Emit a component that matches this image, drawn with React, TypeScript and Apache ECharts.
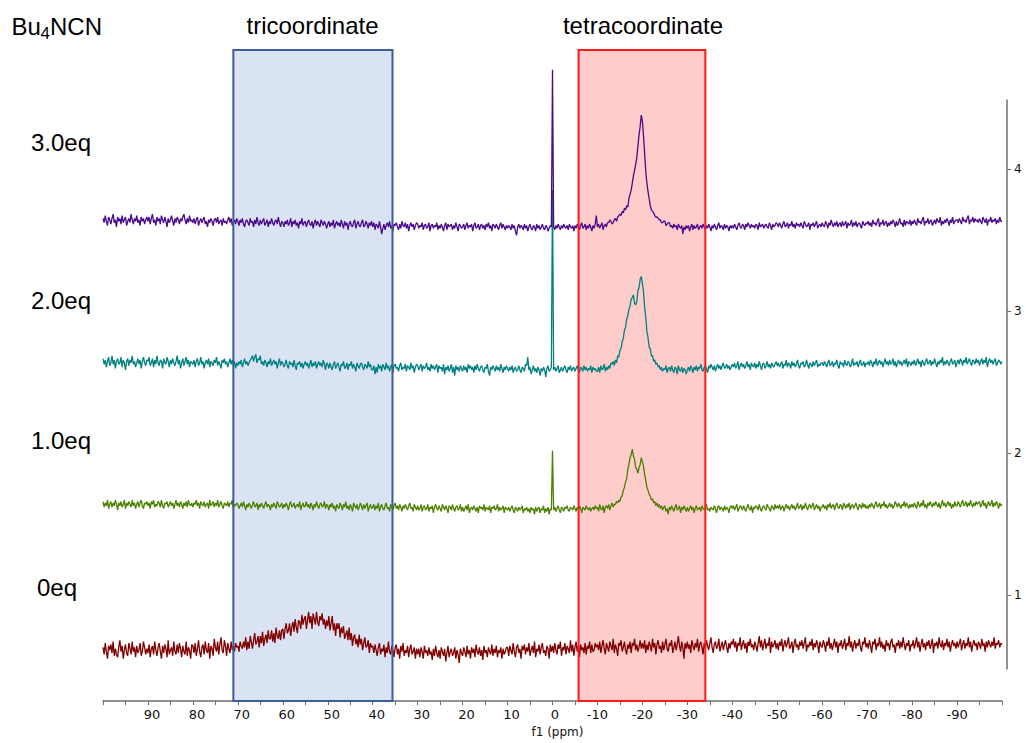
import { useEffect, useRef } from 'react';
import * as echarts from 'echarts';

// Chemical-shift sampling of every trace: 100 ppm down to -100 ppm in 0.25 ppm steps
const PPM_START = 100;
const PPM_STEP = 0.25;

// Stacked 11B spectra, bottom to top
const SAMPLE_LABELS = ['0eq', '1.0eq', '2.0eq', '3.0eq'];
const BASELINE_OFFSETS = [0.6, 1.6, 2.6, 3.6];
const LINE_COLORS = ['#800000', '#4c8000', '#008080', '#4a0a8a'];
// trace colour where it runs under the shaded windows
const BLUE_ZONE_COLORS = ['#6d0000', '#417200', '#00727a', '#3f0984'];
const RED_ZONE_COLORS = ['#800000', '#4c6600', '#006666', '#4a086e'];

// shaded chemical-shift windows (ppm)
const TRICOORD_RANGE = [35.6, 71];
const TETRACOORD_RANGE = [-34, -5.8];
const ZONE_TITLES = ['tricoordinate', 'tetracoordinate'];

const X_MIN = -100;
const X_MAX = 100;
const Y_MIN = 0.24;
const Y_MAX = 4.84;
const RIGHT_TICKS = [1, 2, 3, 4];

// intensities in hundredths of a stack unit, relative to each baseline (one row = 10 ppm)
const INTENSITY_0EQ = [
  2, -3, 5, -1, -6, 3, 0, 4, -2, 6, -4, 1, -3, -5, 2, 7, -1, 3, -6, 0, 4, -2, -4, 5, 1, -3, 6, -1, 2, -5, 3, -2, 0, 5, -4, -1, 6, 2, -3, 1,
  -2, 4, -5, 1, 3, -3, 6, 0, -4, 2, 5, -1, -6, 3, -2, 4, 1, -5, 7, -3, 0, 2, -4, 6, -1, -3, 4, -2, 5, 1, -5, 3, -1, -3, 6, -4, 2, 0, -6, 4,
  3, -2, 5, -4, 1, 7, -1, -5, 2, 4, -3, 6, 0, -2, 5, -6, 3, 1, -4, 8, 2, -1, 6, -3, 4, 9, 0, -2, 7, 3, -4, 5, 1, -2, 6, 0, 3, -1, 5, 2,
  3, -1, 6, 3, 1, 6, 2, 9, 0, 6, 1, 10, 6, 1, 7, 12, 4, 6, 10, 2, 10, 5, 13, 3, 8, 11, 5, 14, 8, 8, 14, 6, 12, 5, 16, 10, 8, 14, 7, 14,
  15, 8, 15, 19, 12, 14, 19, 10, 16, 20, 13, 22, 16, 12, 21, 20, 15, 25, 18, 22, 24, 15, 21, 27, 19, 24, 15, 26, 22, 18, 27, 20, 17, 24, 21, 26, 18, 22, 15, 21,
  17, 24, 14, 19, 24, 14, 19, 10, 19, 15, 19, 9, 16, 12, 17, 8, 11, 14, 7, 16, 7, 12, 3, 9, 11, 4, 8, 2, 11, 4, 8, 0, 5, 9, 2, 3, 7, -2, 5, 2,
  3, -2, 4, 0, -4, 2, 5, -3, 1, -1, 4, -5, 2, -2, 6, -1, -3, 3, 0, -5, 2, 4, -3, 1, -6, 3, -1, 5, -4, 0, -2, 3, -5, 1, 4, -3, -1, 2, -6, 1,
  -3, 1, -5, 2, -1, -6, 3, -2, 0, -4, 2, -3, -1, -7, 1, -4, 3, -2, -5, 0, -6, 2, -1, -4, 1, -8, -2, 3, -5, -1, 1, -4, -2, 2, -6, 0, -3, -9, 1, -2,
  -4, 2, -1, -5, 3, -3, 0, -6, 2, -2, 1, -5, 4, -1, -3, 2, -4, 0, -7, 3, -2, 0, -5, 2, -1, -3, 4, -4, 1, -2, 3, -5, 0, -2, 2, -6, 1, -3, -1, 2,
  2, -4, 3, 0, -3, 5, -1, -5, 2, 4, -2, 1, -6, 3, 0, 4, -3, 2, -1, 5, -4, 0, 3, -2, 6, -5, 1, -1, 4, -3, 2, 5, -2, 0, -4, 3, 1, -6, 4, -1,
  3, -2, 5, 0, -3, 4, 1, 6, -4, 2, 0, 5, -3, 3, 1, -2, 7, -1, 4, -4, 2, 6, -1, 3, -5, 4, 0, 2, -2, 5, -3, 3, 1, 6, -2, 4, -1, 0, 5, 2,
  4, 0, 6, -2, 3, 7, 1, -3, 5, 2, -1, 6, 3, 0, 8, -2, 4, 1, -4, 5, 3, 7, -1, 2, 6, 0, -3, 4, 1, 6, -2, 5, 3, 8, 0, 4, -1, 2, 7, 1,
  5, 1, 7, -2, 4, 0, 6, 3, -1, 8, 2, 5, -3, 4, 7, 1, 3, -2, 6, 0, 4, 8, 1, -1, 5, 3, 7, -2, 2, 6, 0, 4, 10, 3, -1, 6, 2, -6, 5, 1,
  6, 1, 4, -2, 7, 3, 0, 5, 2, 8, -1, 4, 6, 2, -3, 5, 1, 7, 3, 0, 5, 9, 2, -2, 4, 6, 1, 3, 8, -1, 3, 6, 0, 4, 7, 2, -2, 5, 1, 6,
  4, 8, 2, 6, -1, 5, 3, 9, 0, 4, 7, 1, 5, -2, 6, 3, 8, 2, 4, 0, 6, 3, -1, 5, 10, 2, 7, 0, 4, 8, 1, 5, 3, 9, -2, 6, 2, 4, 7, 1,
  5, 0, 6, 3, 8, -1, 4, 7, 2, 5, 9, 1, 3, 6, -2, 5, 8, 2, 4, 0, 6, 3, 7, 1, 5, 9, -1, 4, 2, 6, 3, 8, 0, 5, 2, 7, 4, -2, 6, 3,
  2, 7, 4, -1, 6, 3, 9, 1, 5, 0, 4, 8, 2, 6, -2, 5, 3, 7, 1, 4, 8, 0, 5, 3, 10, 2, 6, -1, 4, 7, 1, 5, 3, 8, 2, -1, 6, 4, 9, 2,
  5, 1, 7, 3, -2, 6, 4, 8, 0, 5, 3, 9, 2, 6, 1, 4, -1, 7, 3, 5, 0, 6, 8, 2, 4, -2, 5, 3, 7, 1, 6, 2, 9, 4, 0, 5, 3, 7, -1, 4,
  3, 7, 1, 5, 9, 2, 6, -1, 4, 8, 2, 5, 0, 6, 3, 7, 1, 4, 8, -2, 5, 3, 6, 1, 9, 4, 2, 7, 0, 5, 3, 8, 2, 6, -1, 4, 7, 3, 5, 1,
  6, 2, 5, 8, 0, 4, 7, 1, 5, 3, 9, 2, 6, -1, 4, 7, 3, 5, 0, 6, 4, 1, 8, 3, 5, -1, 6, 2, 7, 4, 2, 6, 3, 9, 1, 5, 4, 7, 2, 5,
  4,
];

const INTENSITY_1EQ = [
  5, 1, 4, 2, 6, 0, 3, 5, 1, 4, 2, 6, 3, -1, 4, 2, 5, 1, 3, 6, 0, 4, 2, 5, 3, 1, 6, 2, 4, 0, 3, 5, 1, 4, 6, 2, 0, 4, 3, 5,
  2, 4, 0, 5, 3, 6, 1, 3, 2, 5, 4, 1, 6, 2, 0, 4, 3, 5, 1, 3, 5, 2, 4, 0, 3, 6, 2, 4, 1, 5, 3, 0, 4, 2, 5, 1, 6, 3, 2, 4,
  1, 4, 3, 6, 2, 4, 0, 5, 3, 2, 5, 1, 3, 4, 0, 6, 2, 3, 5, 1, 4, 2, 6, 1, 3, 5, 2, 0, 4, 3, 2, 5, 1, 4, 3, 6, 0, 3, 2, 4,
  3, 0, 2, 4, 1, 5, 2, -1, 3, 1, 4, 2, 0, 3, 5, 1, 2, 4, -1, 3, 1, 4, 2, 0, 3, 5, 1, 3, 2, -1, 3, 1, 4, 2, 0, 5, 3, 1, 2, 4,
  0, 3, 1, 4, 2, -1, 3, 5, 1, 2, 4, 0, 2, 3, 1, 5, -1, 2, 4, 1, 2, 5, 1, 3, 0, 4, 2, -1, 3, 1, 5, 2, 0, 3, 4, 1, 2, 5, 0, 3,
  2, -1, 3, 1, 4, 0, 2, -2, 3, 1, 0, 4, 2, -1, 3, 1, 5, 0, 2, -1, 3, 1, -2, 4, 2, 0, 3, -1, 1, 4, 2, -1, 3, 0, 2, 4, -2, 1, 3, 0,
  1, 3, -1, 2, 0, 4, -2, 1, 3, 0, -1, 2, 4, 0, 1, -2, 3, 1, -1, 2, 4, 0, 2, -1, 3, 1, -2, 2, 0, 3, 1, -1, 2, 4, 0, 1, -2, 3, 1, -1,
  2, -1, 0, 3, -2, 1, 2, -1, 0, 3, -2, 1, 0, 2, -3, 1, 3, 0, -1, 2, 0, -2, 3, 1, -1, 2, 0, -3, 2, 1, -1, 3, 0, -2, 1, 2, -1, 0, 3, -2,
  1, -2, 0, 2, -1, 3, -3, 0, 1, -1, 2, 0, -2, 1, -3, 2, 0, 1, -1, 3, -2, 1, 0, -1, 2, -3, 1, 0, 2, -1, 0, 3, -2, 1, -1, 0, 2, -3, 1, 0,
  -1, 1, -2, 0, 2, -1, -3, 1, 0, -2, 1, -1, 0, 2, -3, 0, -1, 1, -2, 0, -3, 1, -1, 0, -4, 1, -2, 0, 1, -3, 0, -1, 2, -3, 0, -2, 1, -4, 0, -1,
  41, -1, 1, -2, 0, 2, -1, -3, 1, 0, -2, 1, 0, 2, -1, -2, 1, 0, -1, 2, 0, -2, 1, -1, 2, 0, -3, 1, 0, -1, 2, 0, -1, 1, -2, 0, 1, -1, 2, 0,
  1, -2, 3, 0, -1, 2, -3, 1, 2, 0, 3, -1, 2, 4, 1, 3, 3, 5, 4, 6, 5, 8, 9, 13, 15, 19, 21, 28, 31, 36, 38, 42, 37, 35, 29, 28, 25, 29, 31, 36,
  33, 30, 24, 20, 15, 13, 10, 9, 6, 7, 4, 5, 2, 4, 1, 3, 0, 2, -1, 1, 2, -2, 0, -4, 1, -1, 2, 0, -2, 1, 3, -1, 0, 2, -3, 1, -1, 2, 0, -2,
  1, -2, 0, 2, -1, 1, -3, 0, 2, -1, 0, 1, -2, 2, 0, -1, 1, 3, -1, 0, -2, 1, 0, -1, 2, 0, -3, 1, 2, -1, 1, 0, -2, 2, -1, 1, 0, -3, 1, 2,
  0, 2, -1, 1, 3, -2, 0, 2, 1, -1, 2, 0, -2, 1, 3, 0, -1, 2, -3, 1, 0, 2, 1, -1, 3, 0, -2, 1, 2, 0, -1, 3, 1, 0, -2, 2, 1, -1, 3, 0,
  2, 0, 3, -1, 1, 2, -2, 1, 3, 0, 2, -1, 1, 3, 0, 2, -1, 1, 4, 0, 1, 3, -1, 2, 0, 4, 1, -1, 2, 3, 0, 2, 4, -1, 1, 3, 0, 2, -2, 1,
  1, 3, 0, 2, -1, 3, 1, 4, 0, 2, 3, -1, 2, 4, 1, 0, 3, 2, -1, 4, 2, 0, 3, 1, 4, -1, 2, 3, 0, 2, 4, 1, -1, 3, 2, 0, 4, 1, 3, 0,
  2, 0, 3, 1, 4, 2, 0, 3, 5, 1, 2, 4, 0, 3, 2, 5, 1, 3, 0, 2, 4, 1, 3, 0, 2, 5, 3, 1, 4, 2, 0, 3, 2, 5, 1, 4, 2, 0, 3, 1,
  3, 1, 4, 2, 0, 5, 3, 1, 4, 2, 6, 1, 3, 0, 4, 2, 5, 3, 1, 4, 2, 5, 3, 1, 4, 0, 3, 6, 2, 4, 1, 3, 5, 2, 4, 0, 3, 1, 5, 2,
  2, 5, 3, 1, 4, 6, 2, 3, 5, 1, 4, 2, 6, 3, 1, 4, 2, 5, 3, 4, 5, 1, 3, 6, 2, 4, 0, 3, 5, 2, 3, 6, 1, 4, 2, 5, 3, 0, 4, 2,
  3,
];

const INTENSITY_2EQ = [
  6, 2, 5, 0, 4, 7, 1, 3, 8, 2, 5, -1, 4, 6, 2, 3, 7, 0, 5, 3, -2, 4, 6, 1, 5, 3, 8, 2, 4, 0, 3, 6, 2, 5, -1, 4, 7, 3, 1, 5,
  4, 7, 1, 3, 6, 0, 5, 2, 8, 3, 1, 5, 4, -1, 6, 3, 2, 7, 4, 0, 5, 2, 6, 3, 1, 4, 8, 2, 5, -1, 3, 6, 1, 4, 7, 2, 5, 0, 4, 3,
  2, 5, 0, 4, 6, 1, 3, 7, 2, 4, -1, 3, 5, 2, 6, 0, 4, 3, 1, 5, 3, 7, 1, 4, 2, -1, 5, 3, 6, 2, 4, 0, 3, 6, 2, 5, 1, 4, -1, 3,
  1, 4, 2, 5, 0, 3, 6, 2, 4, 1, 3, 5, 6, 8, 4, 7, 9, 3, 6, 5, 8, 2, 4, 1, 5, 3, 0, 4, 2, 6, 1, 3, 5, 2, 4, -1, 3, 6, 1, 4,
  3, 0, 2, 5, 1, -1, 4, 2, 3, 0, 5, 1, -2, 3, 2, 4, 0, 3, -1, 2, 4, 1, 3, -1, 2, 5, 0, 3, 1, 4, -1, 2, 4, 1, 3, 0, 5, 2, -2, 3,
  2, -1, 3, 0, -2, 2, 4, -1, 1, 3, 0, -3, 2, 1, 4, -1, 0, 3, -2, 2, 1, 4, -1, 2, 0, -3, 3, 1, -1, 2, 3, 0, -2, 2, 1, -1, 4, 0, 2, -2,
  -2, 1, -5, 0, -4, 2, -1, 1, -3, 2, 0, -2, 3, -1, 1, -3, 0, 2, -4, 1, 2, -1, 0, -3, 1, 3, -2, 0, -1, 2, -3, 1, 0, -2, 3, -1, 1, -4, 0, 2,
  1, -2, 0, 2, -3, 1, -1, 0, 3, -2, 0, -3, 2, -1, 1, -2, 0, 2, -4, 1, -1, 0, -3, 2, -5, 0, -2, 1, -3, -1, 2, -4, 0, -6, 1, -2, 0, -3, 1, -1,
  -3, 1, -2, 0, -4, 2, -1, 1, -2, 0, -4, 1, -2, 2, -1, -3, 0, 1, -2, -4, 0, -1, 2, -3, -6, 0, -2, 1, -1, -3, 1, -2, 0, -3, 2, -1, -4, 0, -2, 1,
  -1, -3, 0, -2, 1, -4, -1, 0, -3, -2, 1, -2, -4, 0, -1, -3, 2, 1, 7, -2, 0, -5, -2, 1, -3, -1, -4, 0, -2, -6, -1, -3, 0, -2, -7, -1, 1, -3, -2, 0,
  125, -2, 0, -3, -1, 1, -4, -2, 0, -3, -1, 1, -2, -4, 0, -2, 1, -3, -1, 0, -3, -1, 1, -2, -4, 0, -1, -3, 1, -2, 0, -3, -1, -2, 1, -4, 0, -2, -1, -3,
  -3, 0, -4, 1, -2, -1, 2, -3, 0, -2, 1, -1, 3, 2, 4, 1, 5, 3, 8, 7, 12, 13, 18, 20, 26, 28, 34, 36, 41, 43, 48, 49, 51, 45, 44, 46, 54, 56, 62, 64,
  59, 53, 42, 35, 25, 21, 14, 13, 8, 8, 4, 5, 2, 3, 0, 1, -2, 0, -3, -1, -2, 1, -4, -1, 0, -3, 1, -2, -4, 0, -1, -5, 1, -2, -3, 0, -4, -1, -2, -5,
  -2, 0, -3, 1, -1, -4, 0, -2, 1, -3, 0, -1, 2, -2, -3, 0, 1, -1, -4, 1, -1, 2, 0, -2, 1, -3, 0, 2, -1, 1, -2, 1, 3, -1, 0, 2, -1, 1, -2, 0,
  2, 0, 3, -1, 1, 4, -2, 1, 3, 0, 2, -1, 1, 4, 0, 2, -2, 3, 1, 0, 3, -1, 2, 0, 4, 1, -2, 2, 3, -1, 1, 4, 0, 2, -1, 3, 1, 0, 2, 4,
  1, 3, 0, 2, 4, -1, 2, 1, 5, 0, 3, 2, -1, 4, 1, 3, 0, 2, 5, 1, -1, 3, 2, 4, 0, 1, 5, 2, -1, 3, 2, 0, 4, 1, 3, 5, 0, 2, 1, 3,
  3, 1, 4, 2, 0, 3, 5, 1, 2, 4, 0, 3, 2, 5, 1, -1, 4, 2, 3, 0, 5, 2, 1, 4, 3, 0, 2, 6, 1, 3, 2, 4, 0, 3, 5, 1, 2, 4, 0, 3,
  2, 4, 1, 5, 3, 0, 4, 2, 6, 1, 3, 5, 2, 4, 0, 3, 6, 2, 4, 1, 5, 2, 3, 6, 1, 4, 0, 3, 5, 2, 4, 1, 3, 5, 2, 6, 0, 4, 3, 1,
  4, 2, 5, 1, 3, 6, 2, 4, 0, 5, 3, 1, 4, 6, 2, 3, 5, 1, 4, 2, 6, 3, 0, 4, 2, 5, 3, 7, 1, 4, 2, 5, 3, 1, 4, 6, 2, 3, 5, 0,
  3, 5, 2, 6, 4, 1, 5, 3, 7, 2, 4, 6, 3, 1, 5, 4, 2, 6, 3, 5, 1, 4, 6, 2, 5, 3, 7, 0, 4, 6, 3, 5, 2, 4, 6, 1, 3, 5, 4, 2,
  4,
];

const INTENSITY_3EQ = [
  5, 2, 7, 3, 0, 6, 4, 1, 5, 8, 2, 4, -1, 6, 3, 5, 1, 7, 2, 4, 6, 0, 3, 5, 2, 8, 4, 1, 5, 3, 7, 2, 4, 0, 6, 3, 5, 1, 4, 6,
  3, 6, 1, 5, 8, 2, 4, 0, 6, 3, 5, 1, 7, 4, 2, 6, 3, -1, 5, 2, 4, 7, 3, 0, 5, 2, 6, 4, 1, 5, 3, 6, 8, 4, 1, 5, 2, 7, 3, 4,
  2, 5, 1, 4, 6, 0, 3, 5, 2, 4, 6, 1, 3, -1, 4, 2, 5, 3, 0, 4, 5, 2, 6, 1, 3, 4, 0, 5, 2, 3, 1, 4, 6, 2, 5, 0, 3, 4, 1, 5,
  3, 0, 4, 2, 5, 1, -1, 3, 4, 2, 0, 5, 2, 3, -1, 4, 1, 6, 2, 0, 4, 1, 3, 5, 0, 2, 4, -1, 3, 1, 5, 2, 0, 3, 4, 1, 6, 2, -1, 3,
  2, -1, 3, 1, 4, 0, 2, 5, -1, 3, 1, 4, 0, 2, -2, 3, 1, 5, 0, 2, 3, -1, 2, 4, 1, 0, 3, -2, 2, 4, 0, 3, 1, -1, 4, 2, 0, 3, 1, -2,
  1, 3, -1, 2, 0, 4, -2, 1, 3, 0, 2, -1, 4, 1, -2, 3, 0, 2, -3, 1, 3, 0, -1, 2, 4, -2, 1, 3, 0, -1, 2, 4, -1, 0, 3, 1, -2, 2, 0, 3,
  -1, 2, -3, 1, 0, -2, 3, -1, -6, -2, 1, -3, 0, 2, -1, 3, -2, 0, -4, 1, 0, 2, -1, -3, 1, -2, 3, 0, -1, 2, -2, 1, -4, 0, 2, -1, 1, -3, 0, 2,
  1, -2, 0, -1, 2, -3, 0, 1, -2, -1, 2, -4, 0, 1, -2, 0, -1, 2, -3, 0, -2, 1, -1, -4, 0, 2, -3, 1, -1, 0, 1, -3, 0, -2, 2, -1, -4, 1, 0, -2,
  -1, 1, -3, 0, 2, -2, 0, -1, 1, -4, 0, 2, -2, -1, 1, -3, 0, 1, -2, 0, -3, 1, -1, 2, -2, 0, -4, 1, 0, -2, 1, -1, -3, 0, 2, -2, 1, -1, -3, 0,
  -2, 0, -1, -3, 1, -2, 0, -4, -7, -1, 1, -2, 0, -1, -3, 1, -2, 0, -4, -1, 1, -2, -3, 0, -1, -4, 1, -2, 0, -3, -1, 1, -2, -3, 0, -1, -4, -2, 0, -1,
  110, -1, -3, 0, -2, 1, -1, -3, 0, -2, 1, -1, -2, 0, -3, 1, -1, -2, 0, -4, 0, -2, 1, -1, -3, 0, 2, -2, -1, 1, -3, 0, -2, 1, -1, -4, 0, -2, 1, 7,
  -1, 1, -2, 0, 2, -3, 0, 1, -1, 2, 2, 4, 3, 1, 2, 4, 5, 3, 6, 7, 8, 7, 10, 9, 12, 11, 14, 13, 19, 22, 25, 30, 35, 39, 43, 48, 56, 64, 70, 78,
  74, 63, 51, 38, 30, 24, 19, 14, 11, 10, 9, 7, 6, 6, 5, 4, 4, 2, 2, 3, 3, 0, 1, 2, 2, -1, 0, -2, 1, -1, 0, -3, 1, -1, -2, 0, -6, -1, -3, 0,
  -2, 0, -4, -1, 1, -3, 0, -2, -1, 1, -3, -1, 0, -2, 1, -1, -3, 0, -2, 1, -1, -4, 0, -2, 1, -1, -3, 0, 2, -2, 0, -1, -3, 1, -2, 0, -1, -4, 0, -2,
  0, -2, 1, -1, -3, 0, 2, -1, -2, 1, 0, -3, 1, -1, 2, 0, -2, 1, -1, 0, -2, 1, 0, -3, 2, -1, 0, 1, -2, 0, 1, -1, -2, 2, 0, -3, 1, -1, 0, 2,
  1, -1, 2, 0, -2, 1, 3, -1, 0, 2, -2, 1, 0, 3, -1, 1, -2, 2, 0, 1, -1, 2, 0, -2, 3, 1, -1, 0, 2, -3, 1, 0, 2, -1, 1, 3, -2, 0, 1, -1,
  2, 0, -1, 3, 1, -2, 2, 0, 4, 1, -1, 2, 0, 3, -1, 1, 2, -1, 3, 0, 1, 3, -2, 2, 0, 1, 4, -1, 2, 0, 3, -1, 1, 2, 0, -2, 3, 1, 0, 2,
  1, 3, 0, 2, -1, 4, 1, 2, 0, 3, 5, -1, 2, 1, 4, 0, 2, 3, -1, 2, 0, 3, 1, 4, 2, -1, 3, 0, 2, 5, 1, 2, -1, 4, 0, 3, 2, 1, 4, 0,
  3, 1, 4, 2, 0, 5, 2, 3, 1, 4, 6, 0, 3, 2, 5, 1, 3, 4, 0, 2, 4, 1, 5, 3, 2, 6, 0, 3, 1, 4, 2, 5, 3, 0, 4, 2, 6, 1, 3, 4,
  4, 2, 5, 3, 1, 6, 3, 4, 2, 5, 7, 1, 4, 3, 6, 2, 5, 3, 4, 2, 5, 3, 1, 6, 4, 2, 5, 0, 4, 3, 6, 2, 4, 3, 5, 1, 4, 2, 6, 3,
  3,
];

const INTENSITIES = [INTENSITY_0EQ, INTENSITY_1EQ, INTENSITY_2EQ, INTENSITY_3EQ];

const TEXT_FONT = "'Liberation Sans', Arial, sans-serif";
const AXIS_FONT = "'DejaVu Sans', sans-serif";
const AXIS_GREY = '#6e6e6e';

const toSeriesData = (values: number[], offset: number) =>
  values.map((v, i) => [PPM_START - i * PPM_STEP, offset + v / 100]);

const textEl = (
  text: string,
  x: number,
  y: number,
  size: number,
  align: 'left' | 'center' = 'left',
) => ({
  type: 'text',
  x,
  y,
  silent: true,
  style: {
    text,
    fill: '#000',
    fontSize: size,
    fontFamily: TEXT_FONT,
    align,
    textAlign: align,
    verticalAlign: 'middle',
    textVerticalAlign: 'middle',
  },
});

const tickLabel = (v: number) => {
  if (v % 10 !== 0 || Math.abs(v) >= 100) return '';
  if (v > 0) return `{pos|${v}}`;
  if (v === 0) return `{zero|${v}}`;
  return `{neg|${v}}`;
};

const labelRich = (pad: number) => ({
  fontSize: 13,
  fontFamily: AXIS_FONT,
  color: '#111',
  padding: [0, 0, 0, pad],
});

export default function App() {
  const ref = useRef<HTMLDivElement>(null);

  useEffect(() => {
    if (!ref.current) return;
    const chart = echarts.init(ref.current, undefined, { renderer: 'svg' });

    const spectra = INTENSITIES.map((vals, k) => ({
      type: 'line',
      name: SAMPLE_LABELS[k],
      xAxisIndex: 0,
      yAxisIndex: 0,
      data: toSeriesData(vals, BASELINE_OFFSETS[k]),
      showSymbol: false,
      symbol: 'none',
      silent: true,
      z: 2,
      lineStyle: { width: 1.3, color: LINE_COLORS[k] },
      color: LINE_COLORS[k],
    }));

    const zoneFill = {
      type: 'line',
      name: 'zone-fill',
      xAxisIndex: 0,
      yAxisIndex: 0,
      data: [],
      silent: true,
      clip: false,
      markArea: {
        silent: true,
        z: 1,
        data: [
          [
            { xAxis: TRICOORD_RANGE[1], yAxis: Y_MIN, itemStyle: { color: '#dae3f3' } },
            { xAxis: TRICOORD_RANGE[0], yAxis: Y_MAX },
          ],
          [
            { xAxis: TETRACOORD_RANGE[1], yAxis: Y_MIN, itemStyle: { color: '#ffcccc' } },
            { xAxis: TETRACOORD_RANGE[0], yAxis: Y_MAX },
          ],
        ],
      },
    };

    const zoneBorder = {
      type: 'line',
      name: 'zone-border',
      xAxisIndex: 0,
      yAxisIndex: 0,
      data: [],
      silent: true,
      clip: false,
      markArea: {
        silent: true,
        z: 5,
        data: [
          [
            {
              xAxis: TRICOORD_RANGE[1],
              yAxis: Y_MIN,
              itemStyle: { color: 'rgba(0,0,0,0)', borderColor: '#3d5d9a', borderWidth: 2 },
            },
            { xAxis: TRICOORD_RANGE[0], yAxis: Y_MAX },
          ],
          [
            {
              xAxis: TETRACOORD_RANGE[1],
              yAxis: Y_MIN,
              itemStyle: { color: 'rgba(0,0,0,0)', borderColor: '#ff1a1a', borderWidth: 2 },
            },
            { xAxis: TETRACOORD_RANGE[0], yAxis: Y_MAX },
          ],
        ],
      },
    };

    chart.setOption({
      animation: false,
      backgroundColor: '#ffffff',
      grid: [
        { left: 103, right: 24, top: 50, bottom: 40 },
        { left: 103, right: 19, top: 100, bottom: 74 },
      ],
      xAxis: [
        {
          type: 'value',
          gridIndex: 0,
          min: X_MIN,
          max: X_MAX,
          interval: 5,
          inverse: true,
          axisLine: { show: true, onZero: false, lineStyle: { color: AXIS_GREY, width: 1.5 } },
          axisTick: { show: true, length: 4, lineStyle: { color: AXIS_GREY, width: 1 } },
          axisLabel: {
            margin: 7,
            fontSize: 13,
            fontFamily: AXIS_FONT,
            color: '#111',
            formatter: tickLabel,
            rich: { pos: labelRich(8), zero: labelRich(5), neg: labelRich(0) },
          },
          splitLine: { show: false },
          name: 'f1 (ppm)',
          nameLocation: 'middle',
          nameGap: 22,
          nameTextStyle: {
            fontSize: 12,
            fontFamily: AXIS_FONT,
            color: '#111',
            padding: [0, 0, 0, 10],
          },
        },
        {
          type: 'value',
          gridIndex: 1,
          min: X_MIN,
          max: X_MAX,
          inverse: true,
          show: false,
          axisLine: { onZero: false },
        },
      ],
      yAxis: [
        { type: 'value', gridIndex: 0, min: Y_MIN, max: Y_MAX, show: false },
        {
          type: 'value',
          gridIndex: 1,
          position: 'right',
          min: 0.4787,
          max: 4.4875,
          axisLine: { show: true, onZero: false, lineStyle: { color: AXIS_GREY, width: 1.5 } },
          axisTick: {
            show: true,
            length: 4,
            customValues: RIGHT_TICKS,
            lineStyle: { color: AXIS_GREY, width: 1 },
          },
          axisLabel: {
            show: true,
            customValues: RIGHT_TICKS,
            margin: 7,
            fontSize: 12,
            fontFamily: AXIS_FONT,
            color: '#111',
          },
          splitLine: { show: false },
        },
      ],
      visualMap: LINE_COLORS.map((c, k) => ({
        type: 'piecewise',
        show: false,
        seriesIndex: k,
        dimension: 0,
        pieces: [
          { min: TETRACOORD_RANGE[0], max: TETRACOORD_RANGE[1], color: RED_ZONE_COLORS[k] },
          { min: TRICOORD_RANGE[0], max: TRICOORD_RANGE[1], color: BLUE_ZONE_COLORS[k] },
        ],
        outOfRange: { color: c },
      })),
      series: [...spectra, zoneFill, zoneBorder],
      graphic: [
        textEl('Bu', 11.5, 26, 24),
        textEl('4', 40.5, 33.5, 17),
        textEl('NCN', 50, 26, 24),
        textEl(ZONE_TITLES[0], 312.5, 25, 24, 'center'),
        textEl(ZONE_TITLES[1], 643, 25, 24, 'center'),
        textEl(SAMPLE_LABELS[3], 31, 142, 24),
        textEl(SAMPLE_LABELS[2], 31, 300, 24),
        textEl(SAMPLE_LABELS[1], 31, 440, 24),
        textEl(SAMPLE_LABELS[0], 37, 587, 24),
      ],
    });

    return () => chart.dispose();
  }, []);

  return (
    <div
      ref={ref}
      style={{ position: 'fixed', left: 0, top: 0, width: 1026, height: 743, background: '#fff' }}
    />
  );
}
